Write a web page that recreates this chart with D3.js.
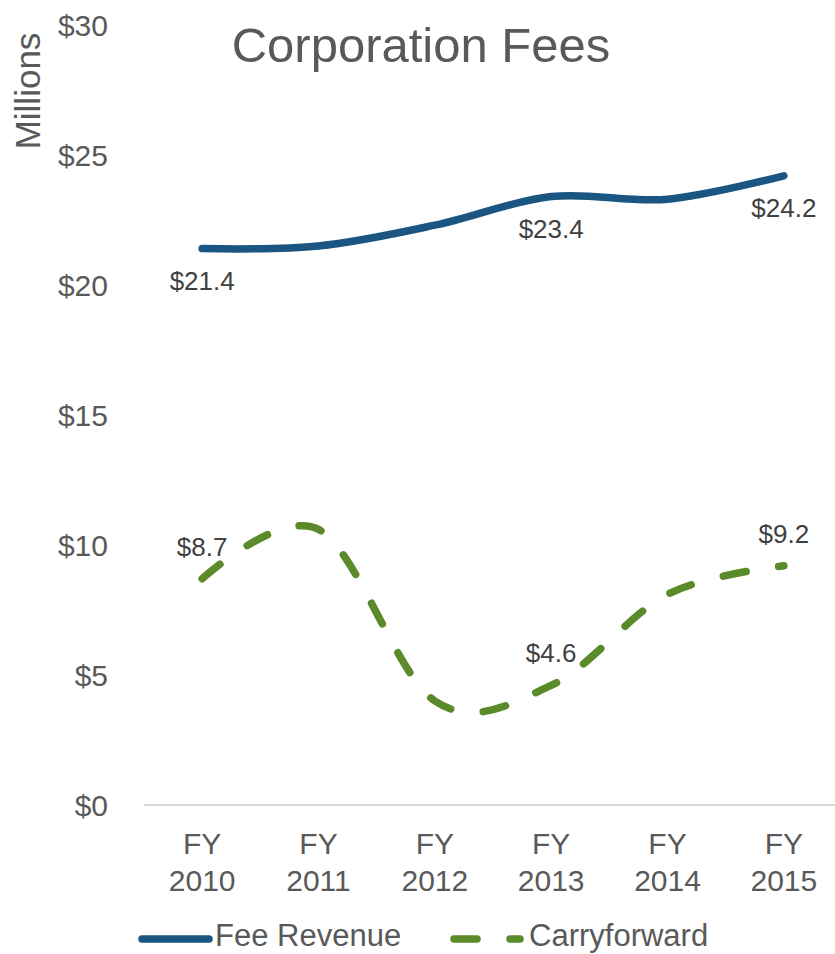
<!DOCTYPE html>
<html>
<head>
<meta charset="utf-8">
<script src="https://cdn.jsdelivr.net/npm/d3@7"></script>
<style>
  body { margin: 0; background: #fff; }
  svg { display: block; font-family: "Liberation Sans", Arial, sans-serif; }
</style>
</head>
<body>
<svg id="chart" width="835" height="954"></svg>
<script>
var years = ['2010', '2011', '2012', '2013', '2014', '2015'];
var feeRevenue = [21.4, 21.5, 22.3, 23.4, 23.3, 24.2];
var carryforward = [8.7, 10.6, 4.0, 4.6, 8.1, 9.2];
var yTicks = [0, 5, 10, 15, 20, 25, 30];
// which points get a data label
var feeLabelIdx = [0, 3, 5];
var carryLabelIdx = [0, 3, 5];

var svg = d3.select('#chart');
var blue = '#1b5582', green = '#5b8a2b';

var x = d3.scaleBand().domain(years).range([144, 842]);
var y = d3.scaleLinear().domain([0, 30]).range([805, 25]);
function cx(d) { return x(d) + x.bandwidth() / 2; }

// title
svg.append('text')
  .attr('x', 421).attr('y', 62)
  .attr('text-anchor', 'middle')
  .attr('font-size', 49)
  .attr('fill', '#595959')
  .text('Corporation Fees');

// y axis title
svg.append('text')
  .attr('transform', 'translate(40,91) rotate(-90)')
  .attr('text-anchor', 'middle')
  .attr('font-size', 35)
  .attr('fill', '#595959')
  .text('Millions');

// y tick labels
svg.selectAll('.ytick')
  .data(yTicks)
  .enter().append('text')
  .attr('class', 'ytick')
  .attr('x', 108)
  .attr('y', function(d) { return y(d); })
  .attr('dy', '0.35em')
  .attr('text-anchor', 'end')
  .attr('font-size', 30)
  .attr('fill', '#595959')
  .text(function(d) { return '$' + d; });

// x axis baseline
svg.append('line')
  .attr('x1', 144).attr('x2', 835)
  .attr('y1', y(0)).attr('y2', y(0))
  .attr('stroke', '#d9d9d9')
  .attr('stroke-width', 2);

// x labels, two lines
var xl = svg.selectAll('.xlab')
  .data(years)
  .enter().append('text')
  .attr('class', 'xlab')
  .attr('text-anchor', 'middle')
  .attr('font-size', 30)
  .attr('fill', '#595959');
xl.append('tspan').attr('x', cx).attr('y', 854).text('FY');
xl.append('tspan').attr('x', cx).attr('y', 891).text(function(d) { return d; });

var line = d3.line()
  .x(function(d, i) { return cx(years[i]); })
  .y(function(d) { return y(d); })
  .curve(d3.curveCardinal.tension(0));

svg.append('path')
  .attr('d', line(feeRevenue))
  .attr('fill', 'none')
  .attr('stroke', blue)
  .attr('stroke-width', 7.5)
  .attr('stroke-linecap', 'round');

svg.append('path')
  .attr('d', line(carryforward))
  .attr('fill', 'none')
  .attr('stroke', green)
  .attr('stroke-width', 7.5)
  .attr('stroke-linecap', 'round')
  .attr('stroke-dasharray', '23,33');

// data labels
svg.selectAll('.feelab')
  .data(feeLabelIdx)
  .enter().append('text')
  .attr('class', 'feelab')
  .attr('x', function(i) { return cx(years[i]); })
  .attr('y', function(i) { return y(feeRevenue[i]) + 41; })
  .attr('text-anchor', 'middle')
  .attr('font-size', 26)
  .attr('fill', '#404040')
  .text(function(i) { return '$' + feeRevenue[i].toFixed(1); });

svg.selectAll('.carrylab')
  .data(carryLabelIdx)
  .enter().append('text')
  .attr('class', 'carrylab')
  .attr('x', function(i) { return cx(years[i]); })
  .attr('y', function(i) { return y(carryforward[i]) - 23; })
  .attr('text-anchor', 'middle')
  .attr('font-size', 26)
  .attr('fill', '#404040')
  .text(function(i) { return '$' + carryforward[i].toFixed(1); });

// legend
var lg = svg.append('g');
lg.append('line')
  .attr('x1', 142).attr('x2', 209).attr('y1', 939).attr('y2', 939)
  .attr('stroke', blue).attr('stroke-width', 7.5).attr('stroke-linecap', 'round');
lg.append('text')
  .attr('x', 215).attr('y', 946)
  .attr('font-size', 31).attr('fill', '#595959')
  .text('Fee Revenue');
lg.append('line')
  .attr('x1', 454).attr('x2', 520).attr('y1', 939).attr('y2', 939)
  .attr('stroke', green).attr('stroke-width', 7.5).attr('stroke-linecap', 'round')
  .attr('stroke-dasharray', '23,33');
lg.append('text')
  .attr('x', 529).attr('y', 946)
  .attr('font-size', 31).attr('fill', '#595959')
  .text('Carryforward');
</script>
</body>
</html>
